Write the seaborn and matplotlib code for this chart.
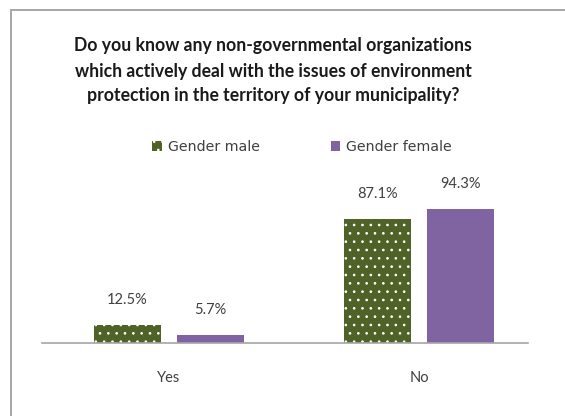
import matplotlib
matplotlib.use("Agg")
import matplotlib.pyplot as plt
from matplotlib.patches import Rectangle, Patch
import seaborn as sns
import pandas as pd

# Survey answers and share of respondents (%) by gender
answers = ["Yes", "No"]
male_share = [12.5, 87.1]
female_share = [5.7, 94.3]
series_names = ["Gender male", "Gender female"]
title_lines = [
    "Do you know any non-governmental organizations",
    "which actively deal with the issues of environment",
    "protection in the territory of your municipality?",
]

df = pd.DataFrame({
    "answer": answers * 2,
    "share": male_share + female_share,
    "gender": [series_names[0]] * len(answers) + [series_names[1]] * len(answers),
})

sns.set_theme(style="white")
plt.rcParams["font.family"] = ["Lato", "DejaVu Sans"]
plt.rcParams["hatch.linewidth"] = 0.7

W, H = 565, 416
fig = plt.figure(figsize=(W / 100, H / 100), dpi=100)

# outer chart frame
fig.add_artist(Rectangle((11 / W, -0.1), 1.2, (H - 10) / H + 0.1,
                         transform=fig.transFigure, fill=False,
                         edgecolor="#A6A6A6", linewidth=1.4))

ax = fig.add_axes([42 / W, 73 / H, 486 / W, 142.5 / H])
palette = {series_names[0]: "#4F6228", series_names[1]: "#8064A2"}
sns.barplot(data=df, x="answer", y="share", hue="gender", order=answers,
            hue_order=series_names, palette=palette, width=0.664, gap=0.19,
            saturation=1, ax=ax, legend=False)

# dotted fill on the male bars
for patch in ax.containers[0]:
    patch.set_hatch("..")
    patch.set_edgecolor("white")
    patch.set_linewidth(0)
for patch in ax.containers[1]:
    patch.set_linewidth(0)

for cont in ax.containers:
    ax.bar_label(cont, fmt="%.1f%%", padding=13, fontsize=10.5,
                 color="#404040", clip_on=False)

ax.set_xlim(-0.508, 1.436)
ax.set_ylim(0, 100)
ax.set_xlabel("")
ax.set_ylabel("")
ax.set_yticks([])
ax.tick_params(axis="x", length=0, pad=20, labelsize=10.5, labelcolor="#404040")
for side in ["top", "right", "left"]:
    ax.spines[side].set_visible(False)
ax.spines["bottom"].set_color("#A6A6A6")
ax.spines["bottom"].set_linewidth(1.2)

# legend
handles = [Patch(facecolor="#4F6228", edgecolor="white", hatch="..", linewidth=0),
           Patch(facecolor="#8064A2", linewidth=0)]
fig.legend(handles, series_names, loc="center", bbox_to_anchor=(302 / W, 1 - 147 / H),
           ncol=2, frameon=False, prop={"family": "DejaVu Sans", "size": 10.2},
           handlelength=0.7, handleheight=0.7, handletextpad=0.4,
           columnspacing=5.0, labelcolor="#404040")

for line, ypx in zip(title_lines, [45, 71, 96]):
    fig.text(273 / W, 1 - ypx / H, line, ha="center", va="center",
             fontsize=12.7, fontweight="bold", color="#1A1A1A")

fig.savefig("out.png", dpi=100, facecolor="white")
